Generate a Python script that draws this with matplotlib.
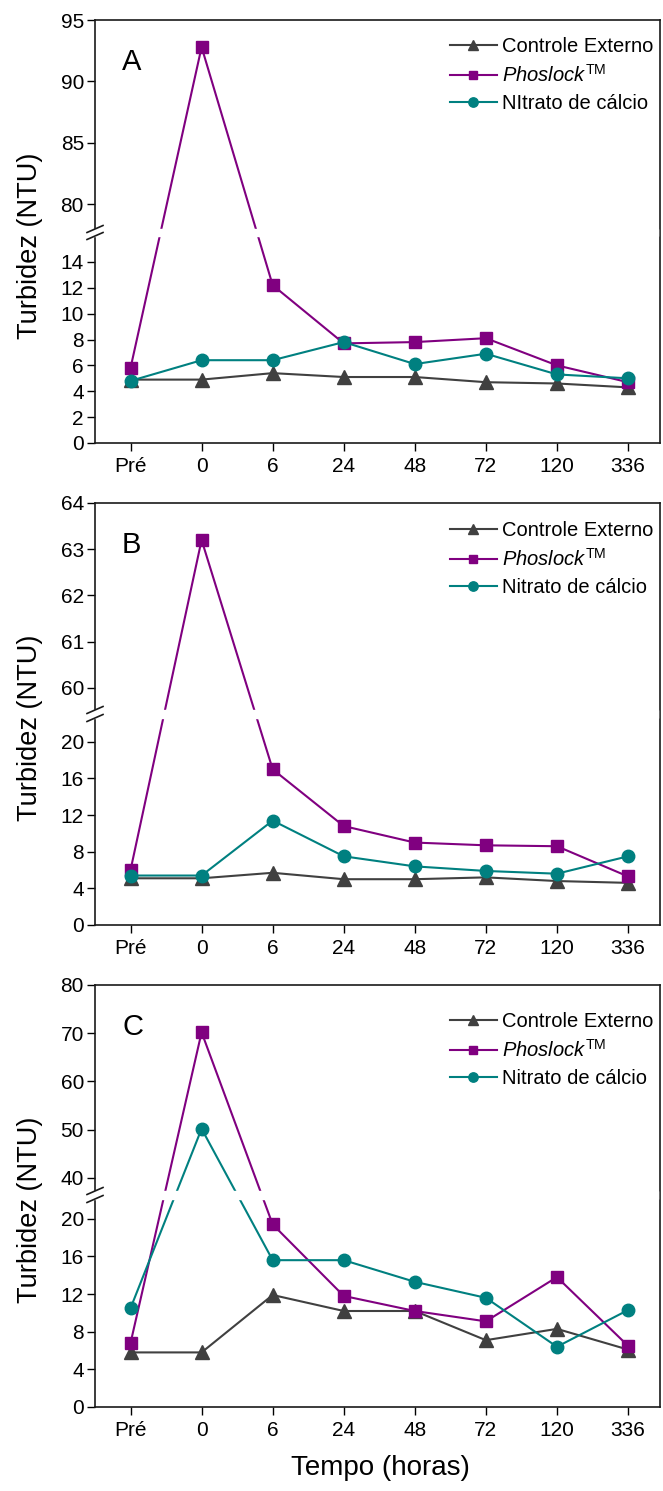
import matplotlib
matplotlib.use("Agg")
import numpy as np
import matplotlib.pyplot as plt
from matplotlib.lines import Line2D

plt.rcParams['font.family'] = ['Liberation Sans', 'DejaVu Sans']
plt.rcParams['mathtext.fontset'] = 'custom'
plt.rcParams['mathtext.rm'] = 'Liberation Sans'
plt.rcParams['mathtext.it'] = 'Liberation Sans:italic'

tempos = ['Pré', '0', '6', '24', '48', '72', '120', '336']

# turbidez (NTU) - painel A
ctrl_a = [4.9, 4.9, 5.4, 5.1, 5.1, 4.7, 4.6, 4.3]
phos_a = [5.8, 92.8, 12.2, 7.7, 7.8, 8.1, 6.0, 4.7]
nitr_a = [4.8, 6.4, 6.4, 7.8, 6.1, 6.9, 5.3, 5.0]

# painel B
ctrl_b = [5.1, 5.1, 5.7, 5.0, 5.0, 5.2, 4.8, 4.6]
phos_b = [6.0, 63.2, 17.0, 10.8, 9.0, 8.7, 8.6, 5.3]
nitr_b = [5.4, 5.4, 11.4, 7.5, 6.4, 5.9, 5.6, 7.5]

# painel C
ctrl_c = [5.8, 5.8, 11.9, 10.2, 10.2, 7.1, 8.3, 6.1]
phos_c = [6.8, 70.2, 19.4, 11.8, 10.2, 9.1, 13.8, 6.5]
nitr_c = [10.5, 50.2, 15.6, 15.6, 13.3, 11.6, 6.4, 10.3]

W, H = 663, 1491
fig = plt.figure(figsize=(W / 100, H / 100), dpi=100)

X0, X1 = 95, 660
cores = {'ctrl': '#404040', 'phos': '#800080', 'nitr': '#008080'}


def fx(x):
    return x / W


def fy(y):
    return 1 - y / H


def escala_quebrada(b0, b1, s_lo, s_up, gap):
    # eixo y linear por partes: [0, b0] embaixo, [b1, topo] em cima, com um salto entre eles
    u0 = b0 * s_lo
    u1 = u0 + gap

    def fwd(v):
        v = np.asarray(v, dtype=float)
        return np.where(v <= b0, v * s_lo,
                        np.where(v >= b1, u1 + (v - b1) * s_up,
                                 u0 + (v - b0) / (b1 - b0) * gap))

    def inv(u):
        u = np.asarray(u, dtype=float)
        return np.where(u <= u0, u / s_lo,
                        np.where(u >= u1, b1 + (u - u1) / s_up,
                                 b0 + (u - u0) / gap * (b1 - b0)))
    return fwd, inv


def painel(letra, top, bottom, lo, up, s_lo, s_up, gap, ticks,
           ctrl, phos, nitr, nitr_nome, leg_top):
    ax = fig.add_axes([fx(X0), fy(bottom), (X1 - X0) / W, (bottom - top) / H])
    ax.set_yscale('function', functions=escala_quebrada(lo, up[0], s_lo, s_up, gap))
    x = range(len(tempos))
    ax.plot(x, ctrl, '-^', color=cores['ctrl'], lw=1.5, ms=9.5, label='Controle Externo')
    ax.plot(x, phos, '-s', color=cores['phos'], lw=1.5, ms=8,
            label=r'$\mathit{Phoslock}^{\mathrm{TM}}$')
    ax.plot(x, nitr, '-o', color=cores['nitr'], lw=1.5, ms=9, label=nitr_nome)

    ax.set_xlim(-0.5, 7.45)
    ax.set_ylim(0, up[1])
    ax.set_yticks(ticks)
    ax.set_yticklabels([str(t) for t in ticks])
    ax.minorticks_off()
    ax.set_xticks(list(x))
    ax.set_xticklabels(tempos)
    ax.tick_params(axis='both', direction='out', length=6, width=1, labelsize=15)
    ax.tick_params(axis='y', pad=2)
    ax.tick_params(axis='x', pad=4)
    for s in ax.spines.values():
        s.set_linewidth(1.2)
        s.set_color('#1a1a1a')

    # faixa branca da quebra (corta linhas e o eixo esquerdo)
    ax.axhspan(lo, up[0], xmin=-0.03, xmax=0.996, color='white', zorder=3, clip_on=False)

    # marcas // da quebra
    trans = ax.get_yaxis_transform()
    inv_fig = fig.transFigure.inverted()
    for yb in (lo, up[0]):
        yd = trans.transform((0, yb))[1]
        p0 = inv_fig.transform((X0 - 8, yd - 3.5))
        p1 = inv_fig.transform((X0 + 8, yd + 3.5))
        fig.add_artist(Line2D([p0[0], p1[0]], [p0[1], p1[1]],
                              color='#1a1a1a', lw=1.2, zorder=5))

    fig.text(fx(122), fy(top + 42), letra, fontsize=21, va='center', ha='left')

    fig.text(fx(30), fy((top + bottom) / 2 + 14), 'Turbidez (NTU)', rotation=90,
             fontsize=19.5, ha='center', va='center')

    ax.legend(loc='upper right', bbox_to_anchor=(fx(653), fy(leg_top)),
              bbox_transform=fig.transFigure, frameon=False, fontsize=14.5,
              handlelength=2.3, handletextpad=0.25, labelspacing=0.4,
              borderaxespad=0, borderpad=0, markerscale=0.75)
    return ax


painel('A', 20, 443, 16, (78, 95), 207 / 16, 209 / 17, 7,
       [0, 2, 4, 6, 8, 10, 12, 14, 80, 85, 90, 95],
       ctrl_a, phos_a, nitr_a, 'NItrato de cálcio', 37)
painel('B', 503, 925, 22.6, (59.52, 64), 207 / 22.6, 207 / 4.48, 8,
       [0, 4, 8, 12, 16, 20, 60, 61, 62, 63, 64],
       ctrl_b, phos_b, nitr_b, 'Nitrato de cálcio', 521)
painel('C', 985, 1407, 22.1, (37.3, 80), 208 / 22.1, 206 / 42.7, 8,
       [0, 4, 8, 12, 16, 20, 40, 50, 60, 70, 80],
       ctrl_c, phos_c, nitr_c, 'Nitrato de cálcio', 1012)

fig.text(fx(380), fy(1468), 'Tempo (horas)', fontsize=20, ha='center', va='center')

fig.savefig('out.png', dpi=100)
